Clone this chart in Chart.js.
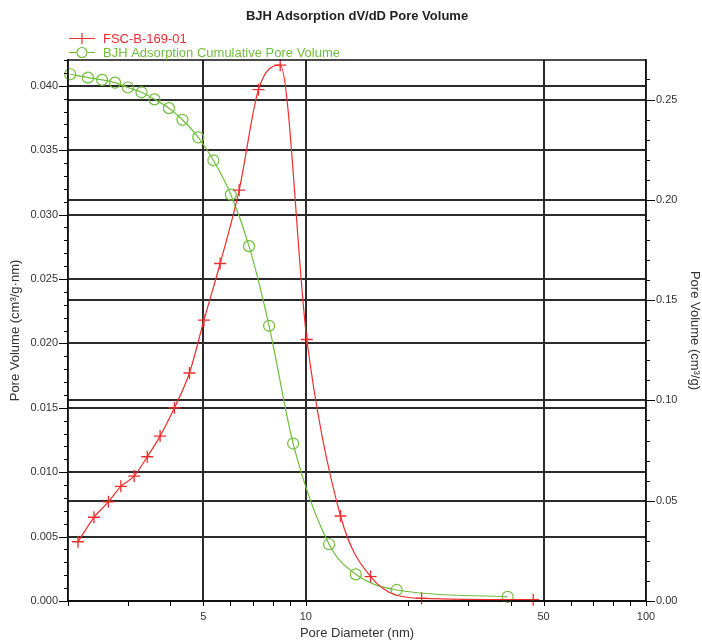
<!DOCTYPE html>
<html>
<head>
<meta charset="utf-8">
<script src="https://cdn.jsdelivr.net/npm/chart.js"></script>
<style>
  body { margin: 0; background: #fff; }
  canvas { display: block; }
</style>
</head>
<body>
<canvas id="bjh" width="702" height="641"></canvas>
<script>
// BJH pore size distribution, dV/dD (left axis) + cumulative (right axis)
var chartTitle = "BJH Adsorption dV/dD Pore Volume";
var redLabel = "FSC-B-169-01";
var greenLabel = "BJH Adsorption Cumulative Pore Volume";

// dV/dD pore volume, cm3/g.nm
var redDiameter = [2.14, 2.385, 2.63, 2.86, 3.13, 3.42, 3.73, 4.11, 4.55, 5.02, 5.6, 6.37, 7.26, 8.41, 10.07, 12.65, 15.5, 21.9, 46.6];
var redVolume = [0.0046, 0.0065, 0.0077, 0.0089, 0.0097, 0.0112, 0.0128, 0.0150, 0.0177, 0.0218, 0.0262, 0.0319, 0.0397, 0.0416, 0.0203, 0.0066, 0.0019, 0.0002, 0.0001];

// cumulative pore volume, cm3/g
var greenDiameter = [2.03, 2.29, 2.52, 2.75, 3.0, 3.29, 3.59, 3.96, 4.34, 4.83, 5.35, 6.02, 6.81, 7.80, 9.18, 11.71, 14.03, 18.5, 39.2];
var greenVolume = [0.2626, 0.2609, 0.2598, 0.2584, 0.2560, 0.2536, 0.2501, 0.2457, 0.2399, 0.2311, 0.2197, 0.2026, 0.1769, 0.1372, 0.0785, 0.0283, 0.0133, 0.0055, 0.0021];

// tick values
var xLabelTicks = [5, 10, 50, 100];
var xAllTicks = [2, 3, 4, 5, 6, 7, 8, 9, 10, 20, 30, 40, 50, 60, 70, 80, 90, 100];
var leftTicks = [0, 0.005, 0.010, 0.015, 0.020, 0.025, 0.030, 0.035, 0.040];
var rightTicks = [0, 0.05, 0.10, 0.15, 0.20, 0.25];

var RED = "rgb(238, 45, 45)";
var GREEN = "rgb(112, 189, 60)";
var GRID = "#2b2b2b";

Chart.defaults.font.family = "'Liberation Sans', Arial, sans-serif";
Chart.defaults.color = "#333";

function pairs(xs, ys) {
  return xs.map(function (x, i) { return { x: x, y: ys[i] }; });
}

// minor tick marks, frame, title and legend
var extras = {
  id: "extras",
  afterDraw: function (chart) {
    var c = chart.ctx, a = chart.chartArea;
    var sx = chart.scales.x, sl = chart.scales.yL, sr = chart.scales.yR;
    c.save();
    c.strokeStyle = "#000";
    c.lineWidth = 1;
    c.beginPath();
    for (var i = 0; i <= 42; i++) {
      var y = Math.round(sl.getPixelForValue(i / 1000)) + 0.5;
      var len = i % 5 === 0 ? 9 : 4;
      c.moveTo(a.left, y); c.lineTo(a.left - len, y);
    }
    for (var j = 0; j <= 26; j++) {
      var y2 = Math.round(sr.getPixelForValue(j / 100)) + 0.5;
      var len2 = j % 5 === 0 ? 9 : 4;
      c.moveTo(a.right, y2); c.lineTo(a.right + len2, y2);
    }
    xAllTicks.forEach(function (v) {
      var x = Math.round(sx.getPixelForValue(v)) + 0.5;
      c.moveTo(x, a.bottom); c.lineTo(x, a.bottom + 5);
    });
    c.stroke();
    // frame
    c.lineWidth = 1.5;
    c.strokeStyle = "#111";
    c.strokeRect(a.left, a.top, a.right - a.left, a.bottom - a.top);

    // title
    c.fillStyle = "#222";
    c.font = "bold 13px 'Liberation Sans', Arial, sans-serif";
    c.textAlign = "center";
    c.textBaseline = "middle";
    c.fillText(chartTitle, (a.left + a.right) / 2, 16);

    // legend
    c.font = "13px 'Liberation Sans', Arial, sans-serif";
    c.textAlign = "left";
    c.lineWidth = 1.2;
    c.strokeStyle = RED;
    c.beginPath();
    c.moveTo(69, 38.5); c.lineTo(95, 38.5);
    c.moveTo(82, 33); c.lineTo(82, 44);
    c.stroke();
    c.fillStyle = RED;
    c.fillText(redLabel, 103, 39);
    c.strokeStyle = GREEN;
    c.beginPath();
    c.moveTo(69, 52.5); c.lineTo(76.5, 52.5);
    c.moveTo(87.5, 52.5); c.lineTo(95, 52.5);
    c.stroke();
    c.beginPath();
    c.arc(82, 52.5, 5, 0, Math.PI * 2);
    c.stroke();
    c.fillStyle = GREEN;
    c.fillText(greenLabel, 103, 53);
    c.restore();
  }
};

var ctx = document.getElementById("bjh").getContext("2d");
var myChart = new Chart(ctx, {
  type: "line",
  data: {
    datasets: [
      {
        label: redLabel,
        data: pairs(redDiameter, redVolume),
        yAxisID: "yL",
        borderColor: RED,
        backgroundColor: RED,
        borderWidth: 1.2,
        pointStyle: "cross",
        pointRadius: 6,
        pointBorderWidth: 1.3,
        cubicInterpolationMode: "monotone",
        fill: false,
        clip: 10,
      },
      {
        label: greenLabel,
        data: pairs(greenDiameter, greenVolume),
        yAxisID: "yR",
        borderColor: GREEN,
        backgroundColor: "transparent",
        borderWidth: 1.2,
        pointStyle: "circle",
        pointRadius: 5.5,
        pointBorderWidth: 1.2,
        cubicInterpolationMode: "monotone",
        fill: false,
        clip: 10,
      },
    ],
  },
  options: {
    responsive: false,
    animation: false,
    events: [],
    layout: { padding: { top: 60, left: 0, right: 0, bottom: 0 } },
    plugins: {
      legend: { display: false },
      title: { display: false },
      tooltip: { enabled: false },
    },
    scales: {
      x: {
        type: "logarithmic",
        position: "bottom",
        min: 2,
        max: 100,
        afterBuildTicks: function (s) {
          s.ticks = xLabelTicks.map(function (v) { return { value: v }; });
        },
        afterFit: function (s) { s.height = 40; },
        ticks: {
          autoSkip: false,
          maxRotation: 0,
          padding: 9,
          font: { size: 11 },
          callback: function (v) { return String(v); },
        },
        grid: {
          drawTicks: false,
          lineWidth: 2,
          color: function (c) { return c.tick && c.tick.value === 100 ? "rgba(0,0,0,0)" : GRID; },
        },
        border: { color: "#111", width: 1.5 },
        title: {
          display: true,
          text: "Pore Diameter (nm)",
          font: { size: 13 },
          padding: { top: 0, bottom: 0 },
        },
      },
      yL: {
        type: "linear",
        position: "left",
        min: 0,
        max: 0.042,
        afterBuildTicks: function (s) {
          s.ticks = leftTicks.map(function (v) { return { value: v }; });
        },
        afterFit: function (s) { s.width = 68; },
        ticks: {
          padding: 10,
          font: { size: 11 },
          callback: function (v) { return v.toFixed(3); },
        },
        grid: { drawTicks: false, lineWidth: 2, color: GRID },
        border: { color: "#111", width: 1.5 },
        title: {
          display: true,
          text: "Pore Volume (cm³/g·nm)",
          font: { size: 13 },
          padding: { top: 8, bottom: 0 },
        },
      },
      yR: {
        type: "linear",
        position: "right",
        min: 0,
        max: 0.2697,
        afterBuildTicks: function (s) {
          s.ticks = rightTicks.map(function (v) { return { value: v }; });
        },
        afterFit: function (s) { s.width = 56; },
        ticks: {
          padding: 10,
          font: { size: 11 },
          callback: function (v) { return v.toFixed(2); },
        },
        grid: { drawTicks: false, lineWidth: 2, color: GRID },
        border: { color: "#111", width: 1.5 },
        title: {
          display: true,
          text: "Pore Volume (cm³/g)",
          font: { size: 13 },
          padding: { top: 0, bottom: 3 },
        },
      },
    },
  },
  plugins: [extras],
});
</script>
</body>
</html>
